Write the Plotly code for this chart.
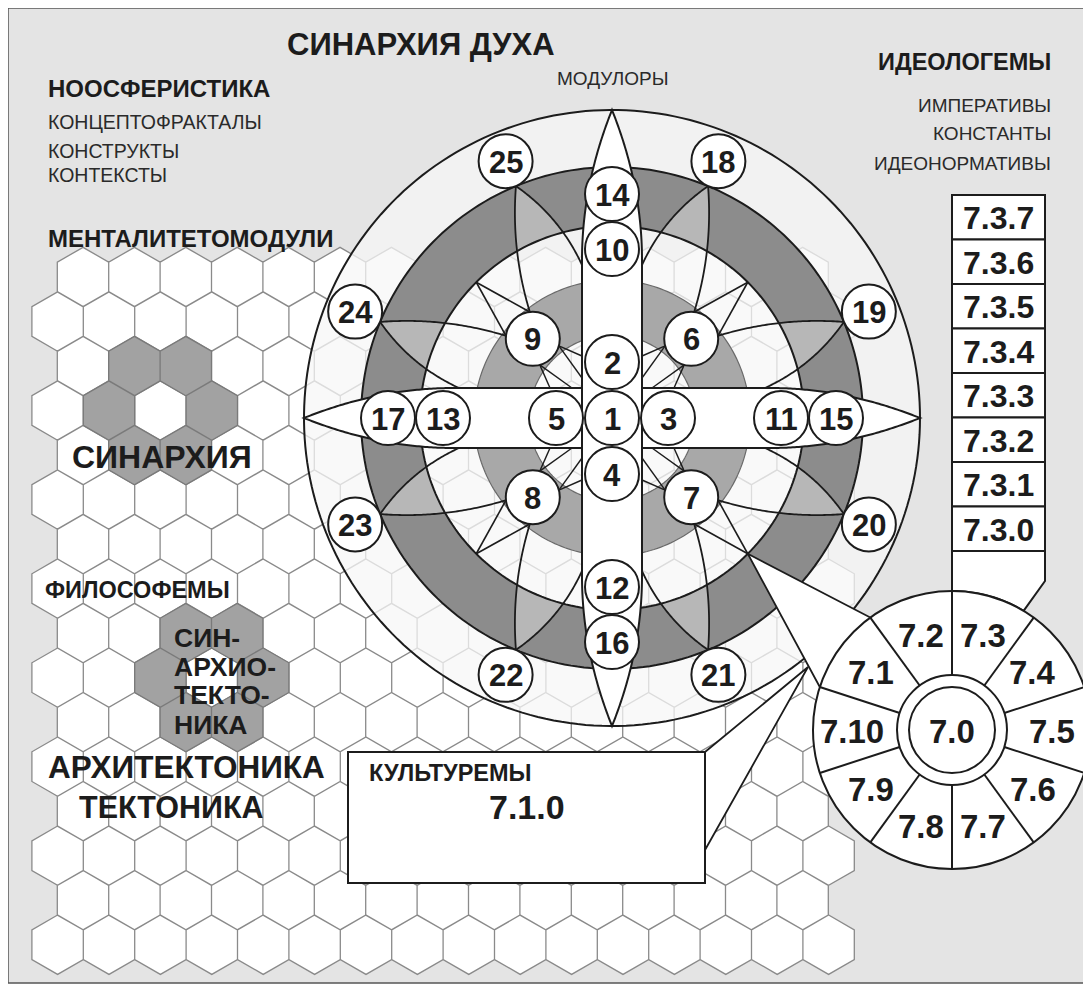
import numpy as np
import plotly.graph_objects as go

# ---------------- texts & labels (data) ----------------
title_text = "СИНАРХИЯ ДУХА"
noos_head = "НООСФЕРИСТИКА"
noos_items = ["КОНЦЕПТОФРАКТАЛЫ", "КОНСТРУКТЫ", "КОНТЕКСТЫ"]
ideo_head = "ИДЕОЛОГЕМЫ"
ideo_items = ["ИМПЕРАТИВЫ", "КОНСТАНТЫ", "ИДЕОНОРМАТИВЫ"]
hex_head = "МЕНТАЛИТЕТОМОДУЛИ"
modulor_text = "МОДУЛОРЫ"
synarchy_text = "СИНАРХИЯ"
philo_text = "ФИЛОСОФЕМЫ"
synarch_lines = ["СИН-", "АРХИО-", "ТЕКТО-", "НИКА"]
archi_lines = ["АРХИТЕКТОНИКА", "ТЕКТОНИКА"]
culture_head = "КУЛЬТУРЕМЫ"
culture_code = "7.1.0"
stack_codes = ["7.3.7", "7.3.6", "7.3.5", "7.3.4", "7.3.3", "7.3.2", "7.3.1", "7.3.0"]
wheel_center = "7.0"
wheel_codes = ["7.3", "7.4", "7.5", "7.6", "7.7", "7.8", "7.9", "7.10", "7.1", "7.2"]
center_no = "1"
arm_up = ["2", "10", "14"]
arm_right = ["3", "11", "15"]
arm_down = ["4", "12", "16"]
arm_left = ["5", "13", "17"]
diag_nos = ["6", "7", "8", "9"]
outer_nos = ["18", "19", "20", "21", "22", "23", "24", "25"]
shaded_cells = [(2, 1), (2, 2), (3, 1), (3, 3), (4, 1), (4, 2),
                (8, 2), (8, 3), (9, 2), (9, 4), (10, 2), (10, 3)]

# ---------------- geometry / style ----------------
W, H = 1091, 994
PAGE_PAD = 8          # browser body margin, compensated in the axis ranges
BG = "#e4e4e4"
INK = "#1c1c1c"
LW = 2
FONT = "Liberation Sans, Arial, sans-serif"

CX, CY = 612, 418
R0, R1, R2, R3, R4 = 308, 251, 192, 138, 83
NUM_R = 27
ARM_D = [56, 169, 224]
DIAG_D = 112
OUTER_D = 278
BAND_HW, BAND_TAPER = 30, 150
PETAL_REACH = 153

HEX_W = 51.4
HEX_R = HEX_W / np.sqrt(3)
ROW_H = 1.5 * HEX_R
ROW0_Y = 277
EVEN_X0, ODD_X0 = 83, 57.6
N_ROWS = 16
EVEN_COLS, ODD_COLS = 15, 16

WX, WY, WR, W_RING, W_IN, W_LAB = 952, 730, 139, 55, 43, 100
SX0, SX1, SY0, SY1 = 952, 1045, 195, 551
CB = (348, 752, 705, 883)

shapes = []
ann = []

C = np.array([CX, CY], float)
WC = np.array([WX, WY], float)


def vec(a):
    r = np.radians(a)
    return np.array([np.cos(r), -np.sin(r)])


def pol(r, a, c=C):
    return c + r * vec(a)


def circ(r, c=C, n=240, a0=0.0, a1=360.0):
    return np.array([c + r * vec(x) for x in np.linspace(a0, a1, n)])


def path(pts, close=True):
    s = "M" + " L".join(f"{x:.2f},{y:.2f}" for x, y in pts)
    return s + (" Z" if close else "")


def add_path(d, fill=None, line=INK, width=LW):
    shapes.append(dict(type="path", path=d, xref="x", yref="y",
                       fillcolor=fill if fill else "rgba(0,0,0,0)",
                       line=dict(color=line if line else "rgba(0,0,0,0)",
                                 width=width if line else 0),
                       layer="above", fillrule="evenodd"))


def add_line(p, q, color=INK, width=LW):
    add_path(path([p, q], close=False), line=color, width=width)


def add_circle(c, r, fill="white", line=INK, width=LW):
    shapes.append(dict(type="circle", xref="x", yref="y",
                       x0=c[0] - r, x1=c[0] + r, y0=c[1] - r, y1=c[1] + r,
                       fillcolor=fill if fill else "rgba(0,0,0,0)",
                       line=dict(color=line, width=width), layer="above"))


def txt(x, y, s, size, bold=True, anchor="center", color=INK):
    ann.append(dict(x=x, y=y, xref="x", yref="y",
                    text=f"<b>{s}</b>" if bold else s, showarrow=False,
                    xanchor=anchor, yanchor="middle",
                    font=dict(family=FONT, size=size, color=color)))


def bez(p0, p1, p2, n=60):
    t = np.linspace(0, 1, n)[:, None]
    return (1 - t) ** 2 * p0 + 2 * t * (1 - t) * p1 + t ** 2 * p2


def curved(p, e, away, bulge):
    mid = (p + e) / 2
    d = e - p
    nrm = np.array([-d[1], d[0]]) / np.linalg.norm(d)
    if np.dot(nrm, away - mid) > 0:
        nrm = -nrm
    return bez(p, mid + 2 * bulge * nrm, e)


def clip_outside(pts, r):
    d = np.linalg.norm(pts - C, axis=1)
    idx = np.where(d < r)[0]
    if len(idx) == 0:
        return pts
    i = idx[0]
    t = (d[i - 1] - r) / (d[i - 1] - d[i])
    cross = pts[i - 1] + t * (pts[i] - pts[i - 1])
    return np.vstack([pts[:i], cross])


def ang(p, c=C):
    return np.degrees(np.arctan2(-(p[1] - c[1]), p[0] - c[0]))


def annulus(ro, ri, c=C):
    return path(circ(ro, c)) + " " + path(circ(ri, c)[::-1])


def band(a):
    s = np.linspace(-R0, R0, 301)
    d = R0 - np.abs(s)
    hw = np.where(d < BAND_TAPER, BAND_HW * (1 - (1 - d / BAND_TAPER) ** 2), BAND_HW)
    u = vec(a)
    v = vec(a + 90)
    side1 = C + s[:, None] * u + hw[:, None] * v
    side2 = C + s[::-1, None] * u - hw[::-1, None] * v
    return np.vstack([side1, side2])


# ---------------- background & frame ----------------
shapes.append(dict(type="rect", xref="x", yref="y", x0=8, y0=8, x1=W + 6, y1=983,
                   fillcolor=BG, line=dict(color="#555555", width=1.5), layer="above"))

# ---------------- hexagon grid ----------------
def hex_pts(cx, cy):
    return [(cx + HEX_R * np.cos(np.radians(a)), cy - HEX_R * np.sin(np.radians(a)))
            for a in (90, 150, 210, 270, 330, 30)]

hex_white, hex_grey = [], []
for r in range(N_ROWS):
    cy = ROW0_Y + r * ROW_H
    x0, n = (EVEN_X0, EVEN_COLS) if r % 2 == 0 else (ODD_X0, ODD_COLS)
    for k in range(n):
        p = path(hex_pts(x0 + k * HEX_W, cy))
        (hex_grey if (r, k) in shaded_cells else hex_white).append(p)
add_path(" ".join(hex_white), fill="white", line="#8a8a8a", width=1.3)
add_path(" ".join(hex_grey), fill="#a2a2a2", line="#7a7a7a", width=1.3)

# ---------------- big circle rings ----------------
add_path(path(circ(R0)), fill="rgba(247,247,247,0.75)", line=None)
add_path(annulus(R1, R2), fill="#8c8c8c", line=None)

petals = []
for k in range(8):
    th = 22.5 + 45 * k
    even = k % 2 == 0
    phi = th + 22.5 if even else th - 22.5
    alpha = 2 * th - phi
    sgn = 1 if even else -1
    P = pol(R1, th)
    D = pol(DIAG_D, phi)
    EA = D + NUM_R * (P - D) / np.linalg.norm(P - D)
    EB = pol(PETAL_REACH, alpha) + BAND_HW * vec(alpha + 90 * sgn)
    arcA = curved(P, EA, EB, 6)
    arcB = curved(P, EB, EA, 7)
    A = clip_outside(arcA, R2)
    B = clip_outside(arcB, R2)
    aA, aB = ang(A[-1]), ang(B[-1])
    diff = (aB - aA + 180) % 360 - 180
    rim = np.array([pol(R2, aA + diff * t) for t in np.linspace(0, 1, 14)])
    add_path(path(np.vstack([A, rim, B[::-1]])), fill="#b7b7b7", line=None)
    petals.append((arcA, arcB, EA, phi))

add_path(annulus(R3, R4), fill="#a8a8a8", line=None)

# ring outlines
add_path(path(circ(R3)), line="#6a6a6a", width=1.2)
add_path(path(circ(R4)), line="#6a6a6a", width=1.2)
add_path(path(circ(R2)), line=INK, width=LW)
add_path(path(circ(R1)), line=INK, width=LW)
add_path(path(circ(R0)), line=INK, width=LW)

# petal arcs and kites
for arcA, arcB, EA, phi in petals:
    add_path(path(arcA, close=False), line=INK, width=1.8)
    add_path(path(arcB, close=False), line=INK, width=1.8)
    add_line(pol(R2, phi), EA, width=1.6)

# inner fan lines from diagonal circles to the bands
for phi in (45, -45, -135, 135):
    D = pol(DIAG_D, phi)
    qx = np.sign(np.cos(np.radians(phi)))
    qy = np.sign(np.sin(np.radians(phi)))
    vert_pts = [np.array([CX + qx * BAND_HW, CY - qy * s]) for s in (40, 62)]
    hor_pts = [np.array([CX + qx * s, CY - qy * BAND_HW]) for s in (40, 62)]
    o1 = D + NUM_R * vec(phi + 180 + 30)
    o2 = D + NUM_R * vec(phi + 180 - 30)
    if np.linalg.norm(o1 - vert_pts[0]) > np.linalg.norm(o2 - vert_pts[0]):
        o1, o2 = o2, o1
    for q in vert_pts:
        add_line(o1, q, width=1.4)
    for q in hor_pts:
        add_line(o2, q, width=1.4)

# ---------------- connectors ----------------
K7 = pol(R2, -45)
tri = [K7, pol(WR, 126, WC), pol(WR, 162, WC)]
wedge = [np.array([CB[2], CB[1]]), np.array([808, 667]), np.array([CB[2], 850])]
add_path(path(wedge), fill="white", line=INK, width=1.8)
add_path(path(tri), fill="white", line=INK, width=1.8)

# ---------------- bands (cross) ----------------
add_path(path(band(0)), fill="white", line=INK, width=LW)
add_path(path(band(90)), fill="white", line=INK, width=LW)

# ---------------- numbered circles ----------------
num_items = [(center_no, C)]
for labels, a in ((arm_up, 90), (arm_right, 0), (arm_down, 270), (arm_left, 180)):
    for lab, d in zip(labels, ARM_D):
        num_items.append((lab, pol(d, a)))
for i, lab in enumerate(diag_nos):
    num_items.append((lab, pol(DIAG_D, 45 - 90 * i)))
for i, lab in enumerate(outer_nos):
    num_items.append((lab, pol(OUTER_D, 67.5 - 45 * i)))
for lab, p in num_items:
    add_circle(p, NUM_R)
    txt(p[0], p[1] + 1, lab, 31)

# ---------------- wheel (7.x) ----------------
fun = [np.array([SX0, SY1]), np.array([SX1, SY1]), np.array([SX1, 581])]
fun += list(circ(WR, WC, n=20, a0=59, a1=90))
add_path(path(fun), fill="white", line=INK, width=LW)
add_circle(WC, WR)
for i in range(10):
    a = 90 + 36 * i
    add_line(pol(W_RING, a, WC), pol(WR, a, WC), width=LW)
add_circle(WC, W_RING)
add_circle(WC, W_IN)
txt(WX, WY + 1, wheel_center, 33)
for i, lab in enumerate(wheel_codes):
    p = pol(W_LAB, 72 - 36 * i, WC)
    txt(p[0], p[1] + 1, lab, 33)

# ---------------- stack of boxes ----------------
bh = (SY1 - SY0) / len(stack_codes)
for i, lab in enumerate(stack_codes):
    y0 = SY0 + i * bh
    shapes.append(dict(type="rect", xref="x", yref="y", x0=SX0, x1=SX1, y0=y0, y1=y0 + bh,
                       fillcolor="white", line=dict(color=INK, width=LW), layer="above"))
    txt((SX0 + SX1) / 2, y0 + bh / 2 + 1, lab, 32)

# ---------------- culture box ----------------
shapes.append(dict(type="rect", xref="x", yref="y", x0=CB[0], x1=CB[2], y0=CB[1], y1=CB[3],
                   fillcolor="white", line=dict(color=INK, width=LW), layer="above"))
txt(367, 773, culture_head, 23.5, anchor="left")
txt(527, 807, culture_code, 34)

# ---------------- free texts ----------------
txt(421, 44, title_text, 31)
txt(46, 88, noos_head, 24, anchor="left")
for s, y in zip(noos_items, (122, 151, 175)):
    txt(46, y, s, 19.5, bold=False, anchor="left", color="#2a2a2a")
txt(46, 238, hex_head, 24, anchor="left")
txt(612, 78, modulor_text, 19, bold=False, color="#2a2a2a")
txt(1053, 62, ideo_head, 23.5, anchor="right")
for s, y in zip(ideo_items, (105, 133, 163)):
    txt(1053, y, s, 19, bold=False, anchor="right", color="#2a2a2a")
txt(162, 457, synarchy_text, 32)
txt(43, 590, philo_text, 23.5, anchor="left")
for s, y in zip(synarch_lines, (638, 667, 695, 725)):
    txt(172, y, s, 26.5, anchor="left")
txt(186, 767, archi_lines[0], 31.5)
txt(171, 807, archi_lines[1], 30.5)

fig = go.Figure(go.Scatter(x=[0], y=[0], mode="markers", marker=dict(opacity=0),
                           hoverinfo="skip", showlegend=False))
fig.update_layout(width=W - 2 * PAGE_PAD, height=H - 2 * PAGE_PAD,
                  margin=dict(l=0, r=0, t=0, b=0),
                  paper_bgcolor="white", plot_bgcolor="white",
                  xaxis=dict(range=[PAGE_PAD, W - PAGE_PAD], visible=False, fixedrange=True),
                  yaxis=dict(range=[H - PAGE_PAD, PAGE_PAD], visible=False, fixedrange=True),
                  shapes=shapes, annotations=ann, showlegend=False)
fig.write_html("out.html")
